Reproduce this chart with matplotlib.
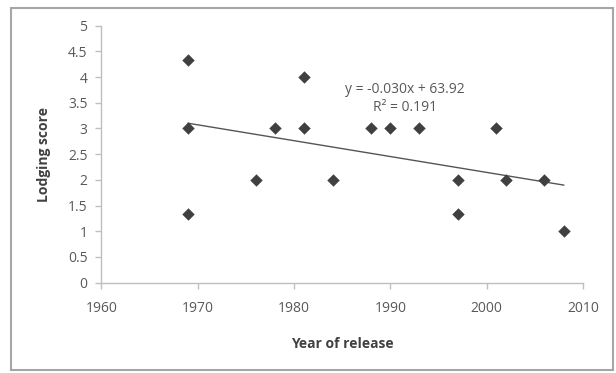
import matplotlib
matplotlib.use("Agg")
import matplotlib.pyplot as plt
import numpy as np
from matplotlib.patches import Rectangle

years = [1969, 1969, 1969, 1976, 1978, 1981, 1981, 1984, 1988, 1990, 1993,
         1997, 1997, 2001, 2002, 2006, 2008]
scores = [4.33, 3, 1.33, 2, 3, 4, 3, 2, 3, 3, 3, 2, 1.33, 3, 2, 2, 1]
x_ticks = [1960, 1970, 1980, 1990, 2000, 2010]
y_ticks = [0, 0.5, 1, 1.5, 2, 2.5, 3, 3.5, 4, 4.5, 5]
eq_text = "y = -0.030x + 63.92\nR² = 0.191"

plt.rcParams['font.family'] = ['Open Sans', 'DejaVu Sans']

fig = plt.figure(figsize=(6.16, 3.73), dpi=100)
fig.patch.set_facecolor('white')
fig.patches.append(Rectangle((11/616, 3/373), 602/616, 362/373, transform=fig.transFigure,
                             fill=False, edgecolor='#a6a6a6', linewidth=1.5))

ax = fig.add_axes([0.1646, 0.2421, 0.9464 - 0.1646, 0.9311 - 0.2421])
ax.scatter(years, scores, marker='D', s=40, color='#404040', zorder=3, linewidths=0)

coef = np.polyfit(years, scores, 1)
xs = np.array([min(years), max(years)])
ax.plot(xs, np.polyval(coef, xs), color='#555555', linewidth=1.0, zorder=2)

ax.text(1991.5, 3.59, eq_text, ha='center', va='center', fontsize=10,
        color='#595959', linespacing=1.3)

ax.set_xlim(1960, 2010)
ax.set_ylim(0, 5)
ax.set_xticks(x_ticks)
ax.set_yticks(y_ticks)
ax.set_yticklabels([f"{v:g}" for v in y_ticks])
for s in ['top', 'right']:
    ax.spines[s].set_visible(False)
for s in ['left', 'bottom']:
    ax.spines[s].set_color('#bfbfbf')
    ax.spines[s].set_linewidth(1.0)
ax.tick_params(axis='both', colors='#bfbfbf', labelcolor='#595959', labelsize=10,
               length=4, width=1, direction='out')
ax.tick_params(axis='x', pad=9)
ax.tick_params(axis='y', pad=6)

ax.set_xlabel("Year of release", fontsize=10, fontweight='bold', color='#404040', labelpad=15)
ax.set_ylabel("Lodging score", fontsize=10, fontweight='bold', color='#404040', labelpad=12)

fig.savefig("out.png", dpi=100)
